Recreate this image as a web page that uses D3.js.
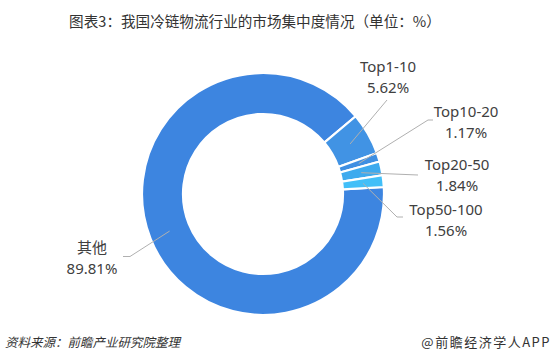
<!DOCTYPE html>
<html><head><meta charset="utf-8">
<script src="https://cdn.jsdelivr.net/npm/d3@7"></script>
<style>
html,body{margin:0;padding:0;background:#fff;}
svg{display:block;}
</style></head>
<body>
<script>
// ---- data ----
const categories = ["其他", "Top1-10", "Top10-20", "Top20-50", "Top50-100"];
const values = [89.81, 5.62, 1.17, 1.84, 1.56];
const valueLabels = ["89.81%", "5.62%", "1.17%", "1.84%", "1.56%"];
const colors = ["#3d85e0", "#4193e4", "#3f8fe2", "#3eaaee", "#42bff8"];

// ---- layout (positions relative to chart centre) ----
const W = 556, H = 364;
const cx = 263, cy = 194, outerR = 121, innerR = 80;
// label block centre x, first baseline y, label-line end points (relative to centre)
const labelLayout = [
  {tx: -171, ty: 59, pts: [[-133, 62.5], [-140, 62.5]]},
  {tx: 125, ty: -122, pts: [[124, -94]]},
  {tx: 203, ty: -77, pts: [[165, -74], [170, -74]]},
  {tx: 194, ty: -24, pts: [[155, -19]]},
  {tx: 183, ty: 21, pts: [[134, 23], [140, 23]]}
];

const svg = d3.select("body").append("svg").attr("width", W).attr("height", H);
svg.append("rect").attr("width", W).attr("height", H).attr("fill", "#fff");

// title
svg.append("text").attr("x", 255).attr("y", 27).attr("text-anchor", "middle")
  .attr("font-family", "'Noto Sans CJK SC', sans-serif").attr("font-size", 14.6)
  .attr("fill", "#333").text("图表3：我国冷链物流行业的市场集中度情况（单位：%）");

const deg = Math.PI / 180;
const smallTotal = d3.sum(values.slice(1)) / d3.sum(values) * 360;
const start = 50 * deg + smallTotal * deg;
const pie = d3.pie().sort(null).value(d => d).startAngle(start).endAngle(start + 2 * Math.PI);
const arcs = pie(values);
const arc = d3.arc().innerRadius(innerR).outerRadius(outerR);

const g = svg.append("g").attr("transform", `translate(${cx},${cy})`);
g.selectAll("path.slice").data(arcs).enter().append("path")
  .attr("class", "slice")
  .attr("d", arc)
  .attr("fill", (d, i) => colors[i])
  .attr("stroke", "#fff").attr("stroke-width", 2.2);

// label lines (start at slice centroid)
const midArc = d3.arc().innerRadius((innerR + outerR) / 2).outerRadius((innerR + outerR) / 2);
arcs.forEach((d, i) => {
  const L = labelLayout[i];
  const pts = [midArc.centroid(d)].concat(L.pts);
  g.append("path").attr("d", d3.line()(pts))
    .attr("fill", "none").attr("stroke", "#b0b0b0").attr("stroke-width", 1);
});

// labels
arcs.forEach((d, i) => {
  const L = labelLayout[i];
  const t = g.append("text").attr("text-anchor", "middle")
    .attr("font-family", "'Noto Sans', 'Noto Sans CJK SC', sans-serif")
    .attr("font-size", 15).attr("fill", "#404040");
  t.append("tspan").attr("x", L.tx).attr("y", L.ty).text(categories[i]);
  t.append("tspan").attr("x", L.tx).attr("y", L.ty + 20.5).text(valueLabels[i]);
});

// footer
svg.append("text").attr("x", 5).attr("y", 347)
  .attr("font-family", "'Noto Sans CJK SC', sans-serif").attr("font-size", 12.5)
  .attr("font-style", "italic").attr("fill", "#333")
  .text("资料来源：前瞻产业研究院整理");
svg.append("text").attr("x", 551).attr("y", 347).attr("text-anchor", "end")
  .attr("font-family", "'Noto Sans CJK SC', sans-serif").attr("font-size", 13)
  .attr("letter-spacing", 1.5).attr("fill", "#333")
  .text("@前瞻经济学人APP");
</script>
</body></html>
